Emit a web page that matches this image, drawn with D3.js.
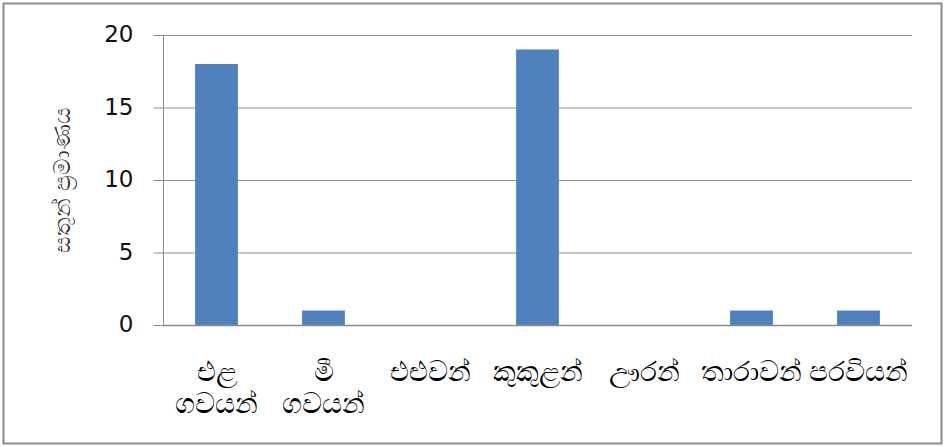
<!DOCTYPE html>
<html lang="si">
<head>
<meta charset="UTF-8" />
<title>සතුන් ප්‍රමාණය</title>
<script src="https://d3js.org/d3.v7.min.js"></script>
<style>
  body { margin: 0; background: #fff; }
  text { font-family: "DejaVu Sans", "Noto Sans", sans-serif; fill: #000; }
</style>
</head>
<body>
<svg width="945" height="447"></svg>
<script>
  // data
  const categories = ["එළ ගවයන්", "මී ගවයන්", "එළුවන්", "කුකුළන්", "ඌරන්", "තාරාවන්", "පරවියන්"];
  const counts = [18, 1, 0, 19, 0, 1, 1];
  const yTicks = [0, 5, 10, 15, 20];
  const yTitle = "සතුන් ප්‍රමාණය";

  const svg = d3.select("svg");

  // outer frame
  svg.append("rect")
    .attr("x", 3.5).attr("y", 3.5)
    .attr("width", 938).attr("height", 440)
    .attr("fill", "#fff")
    .attr("stroke", "#8c8c8c")
    .attr("stroke-width", 2);

  const plotL = 163, plotR = 912, plotT = 35, plotB = 325;

  const x = d3.scaleBand()
    .domain(categories)
    .range([plotL, plotR])
    .paddingInner(0.6)
    .paddingOuter(0.3);

  const y = d3.scaleLinear().domain([0, 20]).range([plotB, plotT]);

  // gridlines
  svg.append("g")
    .selectAll("line")
    .data(yTicks.filter(d => d > 0))
    .join("line")
    .attr("x1", plotL).attr("x2", plotR)
    .attr("y1", d => y(d) + 0.5).attr("y2", d => y(d) + 0.5)
    .attr("stroke", "#8c8c8c")
    .attr("stroke-width", 1);

  // y axis
  const yAxis = svg.append("g")
    .attr("transform", `translate(${plotL + 0.5},0)`)
    .call(d3.axisLeft(y).tickValues(yTicks).tickSize(10).tickPadding(20));
  yAxis.attr("font-family", null);
  yAxis.select(".domain").attr("stroke", "#8c8c8c").attr("d", `M0,${plotT}V${plotB}`);
  yAxis.selectAll(".tick line").attr("stroke", "#8c8c8c");
  yAxis.selectAll(".tick text")
    .style("font-size", "23px")
    .style("fill", "#111")
    .attr("dy", "0.3em");

  // bars
  svg.append("g")
    .selectAll("rect")
    .data(counts)
    .join("rect")
    .attr("x", (d, i) => x(categories[i]))
    .attr("width", x.bandwidth())
    .attr("y", d => y(d))
    .attr("height", d => y(0) - y(d))
    .attr("fill", "#4f81bd");

  // x axis line
  svg.append("line")
    .attr("x1", plotL).attr("x2", plotR)
    .attr("y1", plotB + 0.5).attr("y2", plotB + 0.5)
    .attr("stroke", "#8c8c8c")
    .attr("stroke-width", 1.5);

  // category labels (wrapped on spaces, one text per line)
  const labelG = svg.append("g");
  categories.forEach(d => {
    d.split(" ").forEach((w, i) => {
      labelG.append("text")
        .attr("x", x(d) + x.bandwidth() / 2)
        .attr("y", 381 + i * 32)
        .attr("text-anchor", "middle")
        .style("font-size", "28px")
        .text(w);
    });
  });

  // y title
  svg.append("text")
    .attr("transform", `translate(70,${(plotT + plotB) / 2}) rotate(-90)`)
    .attr("text-anchor", "middle")
    .style("font-size", "23px")
    .style("fill", "#333")
    .text(yTitle);
</script>
</body>
</html>
